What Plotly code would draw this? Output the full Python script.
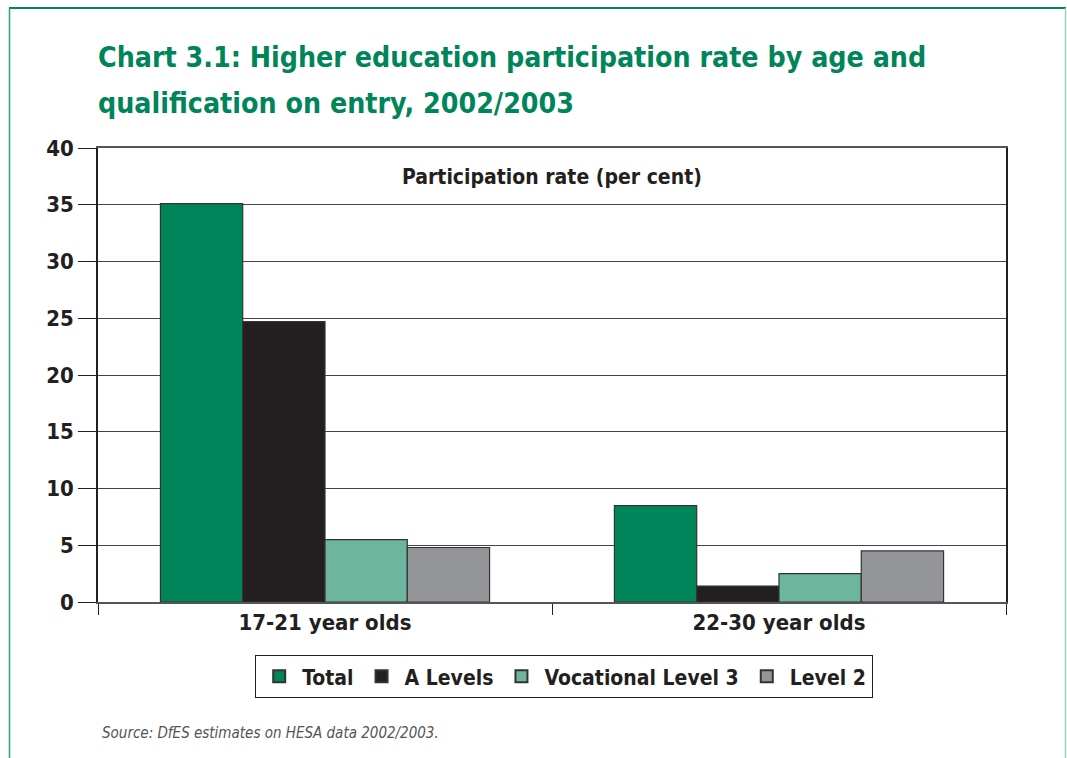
import plotly.graph_objects as go

categories = ["17-21 year olds", "22-30 year olds"]
series_names = ["Total", "A Levels", "Vocational Level 3", "Level 2"]
total = [35.1, 8.5]
a_levels = [24.7, 1.4]
vocational = [5.5, 2.5]
level2 = [4.8, 4.5]
colors = ["#00845a", "#231f20", "#6db59c", "#949599"]
y_ticks = [0, 5, 10, 15, 20, 25, 30, 35, 40]
y_tick_labels = ["0", "5", "10", "15", "20", "25", "30", "35", "40"]
title_lines = ["Chart 3.1: Higher education participation rate by age and",
               "qualification on entry, 2002/2003"]

FONT = "DejaVu Sans Condensed, DejaVu Sans, sans-serif"

W, H = 1067, 758
L, R, T, B = 98, 1006, 148, 602

fig = go.Figure()
for name, vals, col in zip(series_names, [total, a_levels, vocational, level2], colors):
    fig.add_trace(go.Bar(
        x=categories, y=vals, name="<b>" + name + "</b>",
        marker=dict(color=col, line=dict(color="#333333", width=1.2)),
    ))

def px(x):
    return (x - L) / (R - L)

def py(y):
    return (B - y) / (B - T)

shapes = [
    dict(type="line", xref="paper", yref="paper", x0=px(9), x1=px(1066), y0=py(8), y1=py(8),
         line=dict(color="#00875a", width=2)),
    dict(type="line", xref="paper", yref="paper", x0=px(9.5), x1=px(9.5), y0=py(8), y1=py(760),
         line=dict(color="#2fa077", width=1.5)),
    dict(type="line", xref="paper", yref="paper", x0=px(1065.5), x1=px(1065.5), y0=py(8), y1=py(760),
         line=dict(color="#8fd6bf", width=1.5)),
]

annotations = [
    dict(text="<b>" + title_lines[0] + "</b>", xref="paper", yref="paper",
         x=px(96), y=py(57), xanchor="left", yanchor="middle", showarrow=False,
         font=dict(family=FONT, size=28.3, color="#00845a")),
    dict(text="<b>" + title_lines[1] + "</b>", xref="paper", yref="paper",
         x=px(96), y=py(103), xanchor="left", yanchor="middle", showarrow=False,
         font=dict(family=FONT, size=28.3, color="#00845a")),
    dict(text="<b>Participation rate (per cent)</b>", xref="paper", yref="paper",
         x=0.5, y=py(177), xanchor="center", yanchor="middle", showarrow=False,
         font=dict(family=FONT, size=21, color="#231f20")),
    dict(text="<i>Source: DfES estimates on HESA data 2002/2003.</i>", xref="paper", yref="paper",
         x=px(100), y=py(733), xanchor="left", yanchor="middle", showarrow=False,
         font=dict(family=FONT, size=15, color="#555555")),
]

fig.update_layout(
    width=W, height=H,
    margin=dict(l=L, r=W - R, t=T, b=H - B),
    paper_bgcolor="white", plot_bgcolor="white",
    barmode="group", bargap=0.275, bargroupgap=0,
    font=dict(family=FONT, color="#231f20"),
    xaxis=dict(
        type="category", tickson="boundaries", ticks="outside", ticklen=11, tickcolor="#231f20",
        showline=True, linecolor="#555555", linewidth=1.5, mirror=True,
        tickfont=dict(family=FONT, size=22, color="#231f20"),
        tickvals=categories, ticktext=["<b>" + c + "</b>" for c in categories],
        showgrid=False,
    ),
    yaxis=dict(
        range=[0, 40], tickvals=y_ticks, ticktext=["<b>" + t + "</b>" for t in y_tick_labels],
        ticks="outside", ticklen=18, tickcolor="#231f20",
        showline=True, linecolor="#231f20", linewidth=1.5, mirror=True,
        showgrid=True, gridcolor="#444444", gridwidth=1, zeroline=False,
        tickfont=dict(family=FONT, size=22, color="#231f20"),
    ),
    legend=dict(
        orientation="h", x=px(564), xanchor="center", y=py(655), yanchor="top",
        bordercolor="#231f20", borderwidth=1.2, bgcolor="white",
        font=dict(family=FONT, size=21, color="#231f20"),
        itemsizing="constant", itemwidth=36, traceorder="normal",
    ),
    shapes=shapes,
    annotations=annotations,
)

fig.write_html("out.html")
